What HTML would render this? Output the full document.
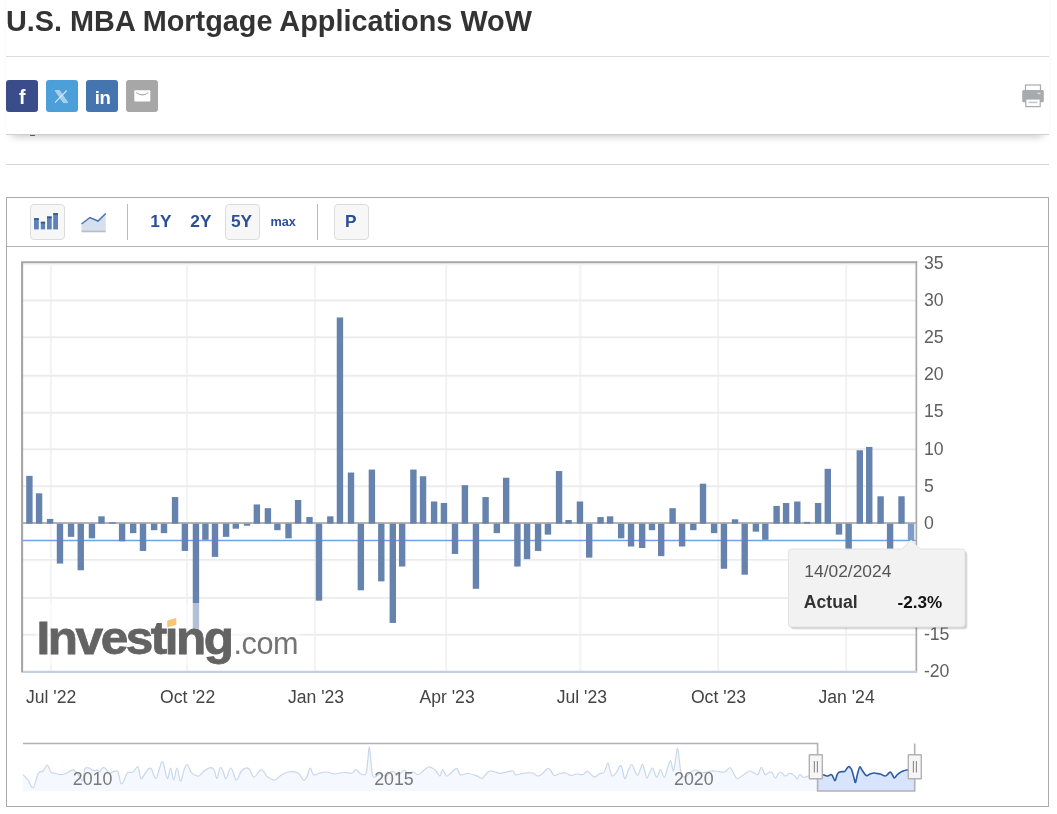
<!DOCTYPE html>
<html lang="en"><head><meta charset="utf-8"><title>U.S. MBA Mortgage Applications WoW</title>
<style>
html,body{margin:0;padding:0;background:#fff;}
body{width:1057px;height:814px;position:relative;overflow:hidden;font-family:"Liberation Sans",Arial,sans-serif;color:#333;}
.abs{position:absolute;}
#peek{left:29.5px;top:134.6px;width:5px;height:1.3px;background:#666;border-radius:1px;}
#line2{left:6px;top:164px;width:1043px;height:1px;background:#d6d6d6;}
#sticky{left:6px;top:-20px;width:1043px;height:154px;background:#fff;border-bottom:1px solid #cfcfcf;box-shadow:0 7px 8px -6px rgba(0,0,0,.25);}
#title{left:6.4px;top:2.0px;transform:scaleX(0.9487);transform-origin:0 0;margin:0;font-size:30.4px;line-height:36px;font-weight:bold;color:#333;white-space:nowrap;letter-spacing:0;}
#line1{left:6px;top:55.6px;width:1043px;height:1px;background:#dcdcdc;}
.sb{top:80px;width:32px;height:32px;border-radius:3px;}
.sb svg{position:absolute;left:0;top:0;}
#box{left:6px;top:197px;width:1041px;height:608px;border:1px solid #ababab;background:#fff;}
#tbline{left:7px;top:246px;width:1041px;height:1px;background:#b4b4b4;}
.btn{top:204px;height:34px;border:1px solid #dcdcdc;border-radius:4px;background:#f7f7f7;}
.rt{top:207px;height:28px;line-height:28px;font-weight:bold;color:#2b4f94;font-size:17.3px;white-space:nowrap;}
.sep{top:204px;width:1px;height:36px;background:#b9b9b9;}
#chart{left:0;top:0;}
#chart text{font-family:"Liberation Sans",Arial,sans-serif;}
</style></head><body>
<div class="abs" id="line2"></div>
<div class="abs" id="peek"></div>
<div class="abs" id="sticky"></div>
<h1 class="abs" id="title">U.S. MBA Mortgage Applications WoW</h1>
<div class="abs" id="line1"></div>

<div class="abs sb" style="left:6px;background:#3b4c8a;"><svg width="32" height="32" viewBox="0 0 32 32"><text x="16.2" y="23.6" text-anchor="middle" font-family="Liberation Sans,Arial,sans-serif" font-weight="bold" font-size="19.4" fill="#fff">f</text></svg></div>
<div class="abs sb" style="left:46px;background:#4d9fd9;"><svg width="32" height="32" viewBox="0 0 32 32"><path d="M9 10.5 H13.5 L21.9 22.6 H17.3 Z" fill="#fff" fill-opacity="0.5" stroke="#d6e8f6" stroke-width="0.5"/><path d="M20.7 10.5 L9 22.6" stroke="#d6e8f6" stroke-width="1.1" fill="none"/></svg></div>
<div class="abs sb" style="left:86px;background:#4475ae;"><svg width="32" height="32" viewBox="0 0 32 32"><text x="16.6" y="23.6" text-anchor="middle" font-family="Liberation Sans,Arial,sans-serif" font-weight="bold" font-size="18.6" fill="#fff" letter-spacing="-0.3">in</text></svg></div>
<div class="abs sb" style="left:126px;background:#a7a7a7;"><svg width="32" height="32" viewBox="0 0 32 32"><rect x="8.3" y="10.2" width="16" height="11.2" rx="1" fill="#fff"/><path d="M10.3 12.6 Q16.3 17.2 22.3 12.6" fill="none" stroke="#a7a7a7" stroke-width="1.1"/></svg></div>

<svg class="abs" style="left:1020px;top:82px" width="26" height="28" viewBox="0 0 26 28">
<rect x="5.5" y="3" width="15" height="6" fill="#fff" stroke="#a9aaac" stroke-width="1.2"/>
<rect x="2.2" y="8" width="21.6" height="12.3" rx="1.5" fill="#a9aaac"/>
<rect x="5.8" y="17" width="14.4" height="7.6" fill="#fff" stroke="#a9aaac" stroke-width="1.2"/>
<rect x="8.5" y="19.6" width="9" height="1.6" fill="#c9c9cb"/>
<rect x="17.5" y="10.6" width="3" height="1.6" fill="#d9d9db"/>
</svg>

<div class="abs" id="box"></div>
<div class="abs" id="tbline"></div>
<div class="abs btn" style="left:30px;width:33px;"></div>
<svg class="abs" style="left:30px;top:204px" width="36" height="36" viewBox="0 0 36 36">
<g fill="#5c82b8"><rect x="4" y="14.2" width="4.8" height="11.2"/><rect x="10.8" y="17.8" width="4.3" height="7.6"/><rect x="17" y="12.5" width="4.7" height="12.9"/><rect x="23.2" y="9.2" width="4.8" height="16.2"/></g>
<g fill="#35568c"><rect x="4" y="14.2" width="4.8" height="1.7"/><rect x="10.8" y="17.8" width="4.3" height="1.7"/><rect x="17" y="12.5" width="4.7" height="1.7"/><rect x="23.2" y="9.2" width="4.8" height="1.7"/></g>
</svg>
<svg class="abs" style="left:78px;top:204px" width="32" height="36" viewBox="0 0 32 36">
<path d="M3.5 20 L12 13.5 L20 17 L27.7 9.5 V27 H3.5 Z" fill="#d5e0ef"/>
<path d="M3.5 20 L12 13.5 L20 17 L27.7 9.5" fill="none" stroke="#4a70b0" stroke-width="1.5"/>
<rect x="3.5" y="26.6" width="24.2" height="1.7" fill="#bdbdbd"/>
</svg>
<div class="abs sep" style="left:127px;"></div>
<div class="abs rt" style="left:150.3px;">1Y</div>
<div class="abs rt" style="left:190.3px;">2Y</div>
<div class="abs btn" style="left:225px;width:33px;"></div>
<div class="abs rt" style="left:231px;">5Y</div>
<div class="abs rt" style="left:270.5px;font-size:12.7px;top:208.4px;">max</div>
<div class="abs sep" style="left:317px;"></div>
<div class="abs btn" style="left:334px;width:33px;"></div>
<div class="abs rt" style="left:345px;">P</div>

<svg class="abs" id="chart" width="1057" height="814" viewBox="0 0 1057 814">
<g stroke="#f3f3f3" stroke-width="2"><line x1="50.8" x2="50.8" y1="263" y2="671"/><line x1="187.0" x2="187.0" y1="263" y2="671"/><line x1="315.0" x2="315.0" y1="263" y2="671"/><line x1="446.2" x2="446.2" y1="263" y2="671"/><line x1="580.3" x2="580.3" y1="263" y2="671"/><line x1="718.2" x2="718.2" y1="263" y2="671"/><line x1="846.1" x2="846.1" y1="263" y2="671"/></g><g stroke="#ececec" stroke-width="1.9"><line x1="23" x2="916" y1="300.5" y2="300.5"/><line x1="23" x2="916" y1="337.3" y2="337.3"/><line x1="23" x2="916" y1="375.8" y2="375.8"/><line x1="23" x2="916" y1="412.7" y2="412.7"/><line x1="23" x2="916" y1="449.2" y2="449.2"/><line x1="23" x2="916" y1="486.2" y2="486.2"/><line x1="23" x2="916" y1="559.9" y2="559.9"/><line x1="23" x2="916" y1="597.9" y2="597.9"/><line x1="23" x2="916" y1="634.7" y2="634.7"/></g>
<line x1="23" x2="916" y1="523.0" y2="523.0" stroke="#b4b4b4" stroke-width="2"/>
<line x1="23" x2="916" y1="540.6" y2="540.6" stroke="#6ea3ea" stroke-width="1.5"/>
<g shape-rendering="auto">
<rect x="26.20" y="475.88" width="6.4" height="47.82" fill="#6683ad"/>
<rect x="35.87" y="493.32" width="6.4" height="30.38" fill="#6683ad"/>
<rect x="46.90" y="518.92" width="6.4" height="4.78" fill="#6683ad"/>
<rect x="56.78" y="523.70" width="6.4" height="39.87" fill="#6683ad"/>
<rect x="67.85" y="523.70" width="6.4" height="13.16" fill="#6683ad"/>
<rect x="77.56" y="523.70" width="6.4" height="46.55" fill="#6683ad"/>
<rect x="88.75" y="523.70" width="6.4" height="14.64" fill="#6683ad"/>
<rect x="98.30" y="516.32" width="6.4" height="7.38" fill="#6683ad"/>
<rect x="109.35" y="522.26" width="6.4" height="1.44" fill="#6683ad"/>
<rect x="118.90" y="523.70" width="6.4" height="17.61" fill="#6683ad"/>
<rect x="129.95" y="523.70" width="6.4" height="9.45" fill="#6683ad"/>
<rect x="139.80" y="523.70" width="6.4" height="27.25" fill="#6683ad"/>
<rect x="150.95" y="523.70" width="6.4" height="6.48" fill="#6683ad"/>
<rect x="160.80" y="523.70" width="6.4" height="9.45" fill="#6683ad"/>
<rect x="171.85" y="497.03" width="6.4" height="26.67" fill="#6683ad"/>
<rect x="181.70" y="523.70" width="6.4" height="27.25" fill="#6683ad"/>
<rect x="192.75" y="523.70" width="6.4" height="105.16" fill="#6683ad"/>
<rect x="202.20" y="523.70" width="6.4" height="16.12" fill="#6683ad"/>
<rect x="211.80" y="523.70" width="6.4" height="33.19" fill="#6683ad"/>
<rect x="222.90" y="523.70" width="6.4" height="13.16" fill="#6683ad"/>
<rect x="232.60" y="523.70" width="6.4" height="4.99" fill="#6683ad"/>
<rect x="243.80" y="523.70" width="6.4" height="2.03" fill="#6683ad"/>
<rect x="253.65" y="504.45" width="6.4" height="19.25" fill="#6683ad"/>
<rect x="264.70" y="508.16" width="6.4" height="15.54" fill="#6683ad"/>
<rect x="274.20" y="523.70" width="6.4" height="6.48" fill="#6683ad"/>
<rect x="285.30" y="523.70" width="6.4" height="14.64" fill="#6683ad"/>
<rect x="294.90" y="500.00" width="6.4" height="23.70" fill="#6683ad"/>
<rect x="306.30" y="517.06" width="6.4" height="6.64" fill="#6683ad"/>
<rect x="315.80" y="523.70" width="6.4" height="76.97" fill="#6683ad"/>
<rect x="327.10" y="516.32" width="6.4" height="7.38" fill="#6683ad"/>
<rect x="336.75" y="317.47" width="6.4" height="206.23" fill="#6683ad"/>
<rect x="347.80" y="472.54" width="6.4" height="51.16" fill="#6683ad"/>
<rect x="357.65" y="523.70" width="6.4" height="66.58" fill="#6683ad"/>
<rect x="368.70" y="469.58" width="6.4" height="54.12" fill="#6683ad"/>
<rect x="378.10" y="523.70" width="6.4" height="57.68" fill="#6683ad"/>
<rect x="389.60" y="523.70" width="6.4" height="99.23" fill="#6683ad"/>
<rect x="398.95" y="523.70" width="6.4" height="42.84" fill="#6683ad"/>
<rect x="410.20" y="469.58" width="6.4" height="54.12" fill="#6683ad"/>
<rect x="419.85" y="476.25" width="6.4" height="47.45" fill="#6683ad"/>
<rect x="430.90" y="501.48" width="6.4" height="22.22" fill="#6683ad"/>
<rect x="440.75" y="502.97" width="6.4" height="20.73" fill="#6683ad"/>
<rect x="451.80" y="523.70" width="6.4" height="30.22" fill="#6683ad"/>
<rect x="461.70" y="485.16" width="6.4" height="38.54" fill="#6683ad"/>
<rect x="472.75" y="523.70" width="6.4" height="65.10" fill="#6683ad"/>
<rect x="482.40" y="497.03" width="6.4" height="26.67" fill="#6683ad"/>
<rect x="493.65" y="523.70" width="6.4" height="9.45" fill="#6683ad"/>
<rect x="502.95" y="477.74" width="6.4" height="45.96" fill="#6683ad"/>
<rect x="514.20" y="523.70" width="6.4" height="42.84" fill="#6683ad"/>
<rect x="523.85" y="523.70" width="6.4" height="35.42" fill="#6683ad"/>
<rect x="534.90" y="523.70" width="6.4" height="27.25" fill="#6683ad"/>
<rect x="544.75" y="523.70" width="6.4" height="10.93" fill="#6683ad"/>
<rect x="555.85" y="471.06" width="6.4" height="52.64" fill="#6683ad"/>
<rect x="565.40" y="520.03" width="6.4" height="3.67" fill="#6683ad"/>
<rect x="576.75" y="501.48" width="6.4" height="22.22" fill="#6683ad"/>
<rect x="586.00" y="523.70" width="6.4" height="33.93" fill="#6683ad"/>
<rect x="597.35" y="517.06" width="6.4" height="6.64" fill="#6683ad"/>
<rect x="606.90" y="516.32" width="6.4" height="7.38" fill="#6683ad"/>
<rect x="617.95" y="523.70" width="6.4" height="14.64" fill="#6683ad"/>
<rect x="627.85" y="523.70" width="6.4" height="22.80" fill="#6683ad"/>
<rect x="638.95" y="523.70" width="6.4" height="24.29" fill="#6683ad"/>
<rect x="648.78" y="523.70" width="6.4" height="6.48" fill="#6683ad"/>
<rect x="658.00" y="523.70" width="6.4" height="32.45" fill="#6683ad"/>
<rect x="669.40" y="508.16" width="6.4" height="15.54" fill="#6683ad"/>
<rect x="678.90" y="523.70" width="6.4" height="22.80" fill="#6683ad"/>
<rect x="690.10" y="523.70" width="6.4" height="6.48" fill="#6683ad"/>
<rect x="699.80" y="483.67" width="6.4" height="40.03" fill="#6683ad"/>
<rect x="710.90" y="523.70" width="6.4" height="9.45" fill="#6683ad"/>
<rect x="720.75" y="523.70" width="6.4" height="45.06" fill="#6683ad"/>
<rect x="731.80" y="519.29" width="6.4" height="4.41" fill="#6683ad"/>
<rect x="741.50" y="523.70" width="6.4" height="51.00" fill="#6683ad"/>
<rect x="752.70" y="523.70" width="6.4" height="7.96" fill="#6683ad"/>
<rect x="762.10" y="523.70" width="6.4" height="16.12" fill="#6683ad"/>
<rect x="773.40" y="505.93" width="6.4" height="17.77" fill="#6683ad"/>
<rect x="782.90" y="502.97" width="6.4" height="20.73" fill="#6683ad"/>
<rect x="794.10" y="501.48" width="6.4" height="22.22" fill="#6683ad"/>
<rect x="803.80" y="521.89" width="6.4" height="1.81" fill="#6683ad"/>
<rect x="814.90" y="502.97" width="6.4" height="20.73" fill="#6683ad"/>
<rect x="824.60" y="468.83" width="6.4" height="54.87" fill="#6683ad"/>
<rect x="835.80" y="523.70" width="6.4" height="10.93" fill="#6683ad"/>
<rect x="845.45" y="523.70" width="6.4" height="69.55" fill="#6683ad"/>
<rect x="856.60" y="450.28" width="6.4" height="73.42" fill="#6683ad"/>
<rect x="866.05" y="446.94" width="6.4" height="76.76" fill="#6683ad"/>
<rect x="877.40" y="496.29" width="6.4" height="27.41" fill="#6683ad"/>
<rect x="886.90" y="523.70" width="6.4" height="53.22" fill="#6683ad"/>
<rect x="898.30" y="496.29" width="6.4" height="27.41" fill="#6683ad"/>
<rect x="907.85" y="523.70" width="6.4" height="16.87" fill="#7d9cc8"/>
</g>
<!-- watermark -->
<rect x="36" y="603" width="264" height="62" fill="#fff" fill-opacity="0.5"/>
<text transform="translate(36.6 0) scale(1.076 1)" x="0" y="654" font-weight="bold" font-size="46" fill="#636363" letter-spacing="-2.3" stroke="#636363" stroke-width="0.8">Investing</text>
<rect x="166" y="616" width="11.5" height="11.6" fill="#fff"/>
<path d="M167.2 620.6 L176.3 618 L176.3 624.7 L167.2 627.4 Z" fill="#f6c673"/>
<text x="233.6" y="654" font-size="30.6" fill="#747474" letter-spacing="-0.5">.com</text>
<!-- plot border -->
<line x1="23" x2="916" y1="264.4" y2="264.4" stroke="#f4f4f4" stroke-width="1.6"/>
<path d="M22.1 672.6 V262.2 H917.1" fill="none" stroke="#a6a6a6" stroke-width="2.1"/>
<line x1="916.35" x2="916.35" y1="261.2" y2="672.4" stroke="#a9a9a9" stroke-width="1.7"/>
<line x1="23.1" x2="917.1" y1="671.9" y2="671.9" stroke="#c3cfdf" stroke-width="2.2"/>
<g font-size="17.7" fill="#5f5f5f"><text x="923.9" y="269.0">35</text><text x="923.9" y="306.1">30</text><text x="923.9" y="343.2">25</text><text x="923.9" y="380.3">20</text><text x="923.9" y="417.4">15</text><text x="923.9" y="454.5">10</text><text x="923.9" y="491.6">5</text><text x="923.9" y="528.7">0</text><text x="923.9" y="565.8">-5</text><text x="923.9" y="602.9">-10</text><text x="923.9" y="640.0">-15</text><text x="923.9" y="677.1">-20</text></g>
<g font-size="17.6" fill="#444"><text x="51.1" y="702.8" text-anchor="middle">Jul '22</text><text x="187.6" y="702.8" text-anchor="middle">Oct '22</text><text x="316.0" y="702.8" text-anchor="middle">Jan '23</text><text x="447.1" y="702.8" text-anchor="middle">Apr '23</text><text x="581.8" y="702.8" text-anchor="middle">Jul '23</text><text x="718.5" y="702.8" text-anchor="middle">Oct '23</text><text x="846.6" y="702.8" text-anchor="middle">Jan '24</text></g>
<!-- navigator -->
<path d="M23.0 774.7 C23.9 775.7 26.2 777.7 28.0 780.0 C29.8 782.3 31.3 788.7 33.2 787.5 C35.1 786.3 36.5 776.4 38.3 773.4 C40.1 770.4 41.4 772.5 43.0 771.0 C44.6 769.5 45.9 765.0 47.3 765.2 C48.7 765.4 49.4 770.5 51.0 772.0 C52.6 773.5 54.1 773.0 56.0 773.5 C57.9 774.0 59.3 774.8 61.3 774.7 C63.3 774.6 65.0 773.9 67.0 773.0 C69.0 772.1 70.9 769.9 72.6 769.9 C74.3 769.9 75.3 771.6 76.6 772.9 C77.9 774.2 78.8 775.5 79.9 776.9 C81.0 778.3 82.0 781.8 82.8 780.8 C83.6 779.8 83.7 773.9 84.2 771.6 C84.7 769.3 84.5 768.5 85.5 767.9 C86.5 767.3 88.7 767.8 89.8 768.2 C90.9 768.6 90.8 769.5 91.8 769.9 C92.8 770.3 94.1 770.6 95.1 770.6 C96.1 770.6 96.3 769.7 97.1 769.9 C97.9 770.1 98.9 771.7 99.7 771.6 C100.5 771.5 100.7 769.9 101.4 769.2 C102.1 768.5 102.5 767.6 103.4 767.6 C104.3 767.6 105.6 768.4 106.4 769.2 C107.2 770.0 107.1 771.1 107.7 771.9 C108.3 772.7 109.2 773.5 110.0 773.5 C110.8 773.5 111.4 772.3 112.3 771.9 C113.2 771.5 114.0 771.3 115.0 771.2 C116.0 771.1 116.9 770.5 117.6 771.2 C118.3 771.9 118.3 772.7 118.9 774.9 C119.5 777.1 120.1 782.3 120.9 783.5 C121.7 784.7 122.6 783.0 123.6 781.5 C124.6 780.0 125.4 776.5 126.2 774.9 C127.0 773.3 127.0 772.9 128.2 772.4 C129.4 771.9 131.2 773.0 133.0 772.0 C134.8 771.0 136.6 765.8 138.0 767.0 C139.4 768.2 139.6 777.6 141.0 778.5 C142.4 779.4 144.3 773.8 146.0 772.0 C147.7 770.2 148.9 767.1 150.7 768.3 C152.5 769.5 154.3 778.2 155.8 778.5 C157.3 778.8 157.8 773.0 159.0 770.0 C160.2 767.0 161.2 760.5 162.7 762.0 C164.2 763.5 165.9 777.4 167.3 778.5 C168.7 779.6 169.4 767.8 170.6 768.0 C171.8 768.2 172.5 779.8 173.7 779.8 C174.9 779.8 175.8 767.8 177.0 768.0 C178.2 768.2 179.3 780.6 180.6 781.0 C181.9 781.4 182.8 773.0 184.0 770.0 C185.2 767.0 185.9 764.1 187.2 764.5 C188.5 764.9 189.8 770.2 191.0 772.0 C192.2 773.8 192.6 774.0 194.0 774.7 C195.4 775.4 197.2 776.7 199.0 776.0 C200.8 775.3 202.1 772.5 204.0 771.0 C205.9 769.5 207.7 768.1 209.5 767.8 C211.3 767.5 212.7 767.6 214.0 769.5 C215.3 771.4 215.9 778.8 217.0 778.5 C218.1 778.2 218.9 769.4 220.0 768.0 C221.1 766.6 221.9 769.1 223.0 771.0 C224.1 772.9 224.6 779.0 226.0 778.5 C227.4 778.0 229.1 767.7 231.0 768.0 C232.9 768.3 234.4 779.5 236.3 780.0 C238.2 780.5 239.6 773.2 241.4 771.0 C243.2 768.8 245.0 768.0 246.5 767.8 C248.0 767.6 248.7 768.3 250.0 770.0 C251.3 771.7 252.1 777.0 254.0 777.0 C255.9 777.0 258.7 770.9 260.5 770.0 C262.3 769.1 262.7 770.7 264.0 772.0 C265.3 773.3 265.7 775.6 267.7 777.0 C269.7 778.4 272.8 780.2 275.0 780.0 C277.2 779.8 277.7 777.4 280.0 776.0 C282.3 774.6 284.8 772.5 288.0 772.0 C291.2 771.5 295.2 771.6 298.0 773.0 C300.8 774.4 301.8 779.3 303.4 780.0 C305.0 780.7 305.8 779.2 307.0 777.0 C308.2 774.8 308.8 768.4 310.0 768.0 C311.2 767.6 311.8 773.8 313.6 774.7 C315.4 775.6 317.7 773.5 320.0 773.0 C322.3 772.5 323.7 771.8 326.4 772.0 C329.1 772.2 332.0 773.9 335.0 774.0 C338.0 774.1 339.9 772.7 343.0 772.5 C346.1 772.3 349.7 773.5 352.0 773.0 C354.3 772.5 354.2 769.4 355.8 769.6 C357.4 769.8 359.2 773.3 361.0 774.0 C362.8 774.7 364.8 775.9 366.0 773.4 C367.2 770.9 367.2 764.8 367.8 760.0 C368.4 755.2 368.8 746.6 369.3 746.6 C369.8 746.6 370.2 754.9 370.8 760.0 C371.4 765.1 371.6 771.6 372.4 774.7 C373.2 777.8 373.6 777.1 375.0 777.0 C376.4 776.9 378.0 774.2 380.0 774.0 C382.0 773.8 383.8 776.5 386.0 776.0 C388.2 775.5 389.8 771.2 392.0 771.0 C394.2 770.8 395.8 775.2 398.0 775.0 C400.2 774.8 402.2 770.2 404.0 770.0 C405.8 769.8 406.4 773.6 408.0 774.0 C409.6 774.4 411.2 771.9 413.0 772.0 C414.8 772.1 416.2 774.9 418.0 774.7 C419.8 774.5 421.1 772.4 423.0 771.0 C424.9 769.6 427.0 767.5 428.6 767.0 C430.2 766.5 430.7 767.3 432.0 768.0 C433.3 768.7 434.6 769.6 436.0 771.0 C437.4 772.4 438.8 776.3 440.0 776.0 C441.2 775.7 441.4 769.6 442.6 769.6 C443.8 769.6 445.0 775.4 446.5 776.0 C448.0 776.6 449.2 774.4 451.0 773.0 C452.8 771.6 455.0 768.0 456.7 768.3 C458.4 768.6 458.5 773.8 460.5 774.7 C462.5 775.6 465.0 773.3 468.0 773.5 C471.0 773.7 474.5 775.1 477.0 776.0 C479.5 776.9 480.4 778.9 482.0 778.5 C483.6 778.1 484.6 775.4 486.0 774.0 C487.4 772.6 488.4 771.4 490.0 771.0 C491.6 770.6 493.2 771.6 495.0 772.0 C496.8 772.4 497.8 773.4 500.0 773.4 C502.2 773.4 504.7 772.4 507.0 772.0 C509.3 771.6 511.5 770.5 513.0 771.0 C514.5 771.5 514.1 774.2 515.4 774.7 C516.7 775.2 518.1 774.3 520.0 774.0 C521.9 773.7 523.7 773.2 526.0 773.0 C528.3 772.8 530.6 772.5 532.8 773.0 C535.0 773.5 536.2 776.0 538.0 776.0 C539.8 776.0 541.2 774.4 543.0 773.0 C544.8 771.6 546.6 768.7 548.0 768.3 C549.4 767.9 549.8 769.7 551.0 771.0 C552.2 772.3 552.9 775.0 554.5 775.5 C556.1 776.0 557.9 774.0 560.0 773.5 C562.1 773.0 564.0 772.6 566.0 773.0 C568.0 773.4 569.0 775.3 571.0 775.5 C573.0 775.7 574.8 774.2 577.0 774.0 C579.2 773.8 581.1 775.0 583.0 774.5 C584.9 774.0 585.7 770.9 587.7 771.4 C589.7 771.9 592.0 776.5 594.0 777.0 C596.0 777.5 597.1 774.9 599.0 774.0 C600.9 773.1 602.8 773.9 604.3 772.0 C605.8 770.1 606.6 763.6 607.6 763.2 C608.6 762.8 609.2 767.7 610.0 770.0 C610.8 772.3 610.9 775.5 612.0 776.0 C613.1 776.5 614.4 774.8 616.0 773.0 C617.6 771.2 619.4 764.8 621.0 765.8 C622.6 766.8 623.4 777.6 624.7 778.5 C626.0 779.4 626.8 773.5 628.0 771.0 C629.2 768.5 630.4 764.7 631.6 764.5 C632.8 764.3 633.4 768.0 634.5 770.0 C635.6 772.0 636.5 775.5 637.5 775.5 C638.5 775.5 639.1 772.0 640.0 770.0 C640.9 768.0 641.7 764.1 642.6 764.5 C643.5 764.9 644.2 769.6 645.0 772.0 C645.8 774.4 646.1 778.0 647.0 778.0 C647.9 778.0 649.0 773.7 650.0 772.0 C651.0 770.3 651.6 767.3 652.8 768.3 C654.0 769.3 655.3 777.1 656.7 777.3 C658.1 777.5 659.1 769.6 660.5 769.6 C661.9 769.6 663.0 777.6 664.3 777.3 C665.6 777.0 666.3 771.0 667.5 768.0 C668.7 765.0 669.7 760.2 670.7 760.7 C671.7 761.2 672.4 771.1 673.3 771.0 C674.2 770.9 674.7 764.1 675.5 760.0 C676.3 755.9 676.9 748.0 677.6 748.4 C678.3 748.8 678.8 757.3 679.5 762.0 C680.2 766.7 680.4 772.0 681.4 774.7 C682.4 777.4 683.5 777.3 685.0 777.0 C686.5 776.7 688.2 774.3 690.0 773.0 C691.8 771.7 693.2 770.2 695.0 770.0 C696.8 769.8 698.2 771.5 700.0 772.0 C701.8 772.5 702.9 772.7 705.0 772.5 C707.1 772.3 709.3 771.2 711.6 771.0 C713.9 770.8 715.7 771.3 718.0 771.5 C720.3 771.7 722.7 772.3 724.3 772.0 C725.9 771.7 726.0 770.8 727.0 770.0 C728.0 769.2 728.8 767.3 730.0 767.8 C731.2 768.3 732.2 771.1 733.5 773.0 C734.8 774.9 735.5 778.0 737.0 778.5 C738.5 779.0 740.4 777.0 742.0 776.0 C743.6 775.0 744.6 773.9 746.0 773.0 C747.4 772.1 748.6 771.0 750.0 771.0 C751.4 771.0 752.6 772.3 754.0 773.0 C755.4 773.7 756.5 775.1 757.5 774.7 C758.5 774.3 758.8 772.4 759.5 771.0 C760.2 769.6 760.7 767.0 761.4 767.0 C762.1 767.0 762.6 769.6 763.3 771.0 C764.0 772.4 764.4 774.3 765.2 774.7 C766.0 775.1 766.8 773.5 768.0 773.0 C769.2 772.5 770.3 771.1 771.6 772.0 C772.9 772.9 774.2 777.6 775.4 778.0 C776.6 778.4 777.1 775.1 778.0 774.0 C778.9 772.9 779.6 772.0 780.5 772.0 C781.4 772.0 782.1 773.3 783.0 774.0 C783.9 774.7 784.3 776.1 785.6 776.0 C786.9 775.9 788.4 773.4 790.0 773.4 C791.6 773.4 793.4 775.0 794.7 776.0 C796.0 777.0 796.3 779.2 797.2 779.0 C798.1 778.8 798.6 775.0 799.8 774.7 C801.0 774.4 802.0 777.1 803.6 777.3 C805.2 777.5 807.0 776.4 808.7 776.0 C810.4 775.6 811.4 775.2 813.0 775.0 C814.6 774.8 816.8 775.0 817.6 775.0 L817.6 791 L23 791 Z" fill="#f5f8fe"/>
<path d="M23.0 774.7 C23.9 775.7 26.2 777.7 28.0 780.0 C29.8 782.3 31.3 788.7 33.2 787.5 C35.1 786.3 36.5 776.4 38.3 773.4 C40.1 770.4 41.4 772.5 43.0 771.0 C44.6 769.5 45.9 765.0 47.3 765.2 C48.7 765.4 49.4 770.5 51.0 772.0 C52.6 773.5 54.1 773.0 56.0 773.5 C57.9 774.0 59.3 774.8 61.3 774.7 C63.3 774.6 65.0 773.9 67.0 773.0 C69.0 772.1 70.9 769.9 72.6 769.9 C74.3 769.9 75.3 771.6 76.6 772.9 C77.9 774.2 78.8 775.5 79.9 776.9 C81.0 778.3 82.0 781.8 82.8 780.8 C83.6 779.8 83.7 773.9 84.2 771.6 C84.7 769.3 84.5 768.5 85.5 767.9 C86.5 767.3 88.7 767.8 89.8 768.2 C90.9 768.6 90.8 769.5 91.8 769.9 C92.8 770.3 94.1 770.6 95.1 770.6 C96.1 770.6 96.3 769.7 97.1 769.9 C97.9 770.1 98.9 771.7 99.7 771.6 C100.5 771.5 100.7 769.9 101.4 769.2 C102.1 768.5 102.5 767.6 103.4 767.6 C104.3 767.6 105.6 768.4 106.4 769.2 C107.2 770.0 107.1 771.1 107.7 771.9 C108.3 772.7 109.2 773.5 110.0 773.5 C110.8 773.5 111.4 772.3 112.3 771.9 C113.2 771.5 114.0 771.3 115.0 771.2 C116.0 771.1 116.9 770.5 117.6 771.2 C118.3 771.9 118.3 772.7 118.9 774.9 C119.5 777.1 120.1 782.3 120.9 783.5 C121.7 784.7 122.6 783.0 123.6 781.5 C124.6 780.0 125.4 776.5 126.2 774.9 C127.0 773.3 127.0 772.9 128.2 772.4 C129.4 771.9 131.2 773.0 133.0 772.0 C134.8 771.0 136.6 765.8 138.0 767.0 C139.4 768.2 139.6 777.6 141.0 778.5 C142.4 779.4 144.3 773.8 146.0 772.0 C147.7 770.2 148.9 767.1 150.7 768.3 C152.5 769.5 154.3 778.2 155.8 778.5 C157.3 778.8 157.8 773.0 159.0 770.0 C160.2 767.0 161.2 760.5 162.7 762.0 C164.2 763.5 165.9 777.4 167.3 778.5 C168.7 779.6 169.4 767.8 170.6 768.0 C171.8 768.2 172.5 779.8 173.7 779.8 C174.9 779.8 175.8 767.8 177.0 768.0 C178.2 768.2 179.3 780.6 180.6 781.0 C181.9 781.4 182.8 773.0 184.0 770.0 C185.2 767.0 185.9 764.1 187.2 764.5 C188.5 764.9 189.8 770.2 191.0 772.0 C192.2 773.8 192.6 774.0 194.0 774.7 C195.4 775.4 197.2 776.7 199.0 776.0 C200.8 775.3 202.1 772.5 204.0 771.0 C205.9 769.5 207.7 768.1 209.5 767.8 C211.3 767.5 212.7 767.6 214.0 769.5 C215.3 771.4 215.9 778.8 217.0 778.5 C218.1 778.2 218.9 769.4 220.0 768.0 C221.1 766.6 221.9 769.1 223.0 771.0 C224.1 772.9 224.6 779.0 226.0 778.5 C227.4 778.0 229.1 767.7 231.0 768.0 C232.9 768.3 234.4 779.5 236.3 780.0 C238.2 780.5 239.6 773.2 241.4 771.0 C243.2 768.8 245.0 768.0 246.5 767.8 C248.0 767.6 248.7 768.3 250.0 770.0 C251.3 771.7 252.1 777.0 254.0 777.0 C255.9 777.0 258.7 770.9 260.5 770.0 C262.3 769.1 262.7 770.7 264.0 772.0 C265.3 773.3 265.7 775.6 267.7 777.0 C269.7 778.4 272.8 780.2 275.0 780.0 C277.2 779.8 277.7 777.4 280.0 776.0 C282.3 774.6 284.8 772.5 288.0 772.0 C291.2 771.5 295.2 771.6 298.0 773.0 C300.8 774.4 301.8 779.3 303.4 780.0 C305.0 780.7 305.8 779.2 307.0 777.0 C308.2 774.8 308.8 768.4 310.0 768.0 C311.2 767.6 311.8 773.8 313.6 774.7 C315.4 775.6 317.7 773.5 320.0 773.0 C322.3 772.5 323.7 771.8 326.4 772.0 C329.1 772.2 332.0 773.9 335.0 774.0 C338.0 774.1 339.9 772.7 343.0 772.5 C346.1 772.3 349.7 773.5 352.0 773.0 C354.3 772.5 354.2 769.4 355.8 769.6 C357.4 769.8 359.2 773.3 361.0 774.0 C362.8 774.7 364.8 775.9 366.0 773.4 C367.2 770.9 367.2 764.8 367.8 760.0 C368.4 755.2 368.8 746.6 369.3 746.6 C369.8 746.6 370.2 754.9 370.8 760.0 C371.4 765.1 371.6 771.6 372.4 774.7 C373.2 777.8 373.6 777.1 375.0 777.0 C376.4 776.9 378.0 774.2 380.0 774.0 C382.0 773.8 383.8 776.5 386.0 776.0 C388.2 775.5 389.8 771.2 392.0 771.0 C394.2 770.8 395.8 775.2 398.0 775.0 C400.2 774.8 402.2 770.2 404.0 770.0 C405.8 769.8 406.4 773.6 408.0 774.0 C409.6 774.4 411.2 771.9 413.0 772.0 C414.8 772.1 416.2 774.9 418.0 774.7 C419.8 774.5 421.1 772.4 423.0 771.0 C424.9 769.6 427.0 767.5 428.6 767.0 C430.2 766.5 430.7 767.3 432.0 768.0 C433.3 768.7 434.6 769.6 436.0 771.0 C437.4 772.4 438.8 776.3 440.0 776.0 C441.2 775.7 441.4 769.6 442.6 769.6 C443.8 769.6 445.0 775.4 446.5 776.0 C448.0 776.6 449.2 774.4 451.0 773.0 C452.8 771.6 455.0 768.0 456.7 768.3 C458.4 768.6 458.5 773.8 460.5 774.7 C462.5 775.6 465.0 773.3 468.0 773.5 C471.0 773.7 474.5 775.1 477.0 776.0 C479.5 776.9 480.4 778.9 482.0 778.5 C483.6 778.1 484.6 775.4 486.0 774.0 C487.4 772.6 488.4 771.4 490.0 771.0 C491.6 770.6 493.2 771.6 495.0 772.0 C496.8 772.4 497.8 773.4 500.0 773.4 C502.2 773.4 504.7 772.4 507.0 772.0 C509.3 771.6 511.5 770.5 513.0 771.0 C514.5 771.5 514.1 774.2 515.4 774.7 C516.7 775.2 518.1 774.3 520.0 774.0 C521.9 773.7 523.7 773.2 526.0 773.0 C528.3 772.8 530.6 772.5 532.8 773.0 C535.0 773.5 536.2 776.0 538.0 776.0 C539.8 776.0 541.2 774.4 543.0 773.0 C544.8 771.6 546.6 768.7 548.0 768.3 C549.4 767.9 549.8 769.7 551.0 771.0 C552.2 772.3 552.9 775.0 554.5 775.5 C556.1 776.0 557.9 774.0 560.0 773.5 C562.1 773.0 564.0 772.6 566.0 773.0 C568.0 773.4 569.0 775.3 571.0 775.5 C573.0 775.7 574.8 774.2 577.0 774.0 C579.2 773.8 581.1 775.0 583.0 774.5 C584.9 774.0 585.7 770.9 587.7 771.4 C589.7 771.9 592.0 776.5 594.0 777.0 C596.0 777.5 597.1 774.9 599.0 774.0 C600.9 773.1 602.8 773.9 604.3 772.0 C605.8 770.1 606.6 763.6 607.6 763.2 C608.6 762.8 609.2 767.7 610.0 770.0 C610.8 772.3 610.9 775.5 612.0 776.0 C613.1 776.5 614.4 774.8 616.0 773.0 C617.6 771.2 619.4 764.8 621.0 765.8 C622.6 766.8 623.4 777.6 624.7 778.5 C626.0 779.4 626.8 773.5 628.0 771.0 C629.2 768.5 630.4 764.7 631.6 764.5 C632.8 764.3 633.4 768.0 634.5 770.0 C635.6 772.0 636.5 775.5 637.5 775.5 C638.5 775.5 639.1 772.0 640.0 770.0 C640.9 768.0 641.7 764.1 642.6 764.5 C643.5 764.9 644.2 769.6 645.0 772.0 C645.8 774.4 646.1 778.0 647.0 778.0 C647.9 778.0 649.0 773.7 650.0 772.0 C651.0 770.3 651.6 767.3 652.8 768.3 C654.0 769.3 655.3 777.1 656.7 777.3 C658.1 777.5 659.1 769.6 660.5 769.6 C661.9 769.6 663.0 777.6 664.3 777.3 C665.6 777.0 666.3 771.0 667.5 768.0 C668.7 765.0 669.7 760.2 670.7 760.7 C671.7 761.2 672.4 771.1 673.3 771.0 C674.2 770.9 674.7 764.1 675.5 760.0 C676.3 755.9 676.9 748.0 677.6 748.4 C678.3 748.8 678.8 757.3 679.5 762.0 C680.2 766.7 680.4 772.0 681.4 774.7 C682.4 777.4 683.5 777.3 685.0 777.0 C686.5 776.7 688.2 774.3 690.0 773.0 C691.8 771.7 693.2 770.2 695.0 770.0 C696.8 769.8 698.2 771.5 700.0 772.0 C701.8 772.5 702.9 772.7 705.0 772.5 C707.1 772.3 709.3 771.2 711.6 771.0 C713.9 770.8 715.7 771.3 718.0 771.5 C720.3 771.7 722.7 772.3 724.3 772.0 C725.9 771.7 726.0 770.8 727.0 770.0 C728.0 769.2 728.8 767.3 730.0 767.8 C731.2 768.3 732.2 771.1 733.5 773.0 C734.8 774.9 735.5 778.0 737.0 778.5 C738.5 779.0 740.4 777.0 742.0 776.0 C743.6 775.0 744.6 773.9 746.0 773.0 C747.4 772.1 748.6 771.0 750.0 771.0 C751.4 771.0 752.6 772.3 754.0 773.0 C755.4 773.7 756.5 775.1 757.5 774.7 C758.5 774.3 758.8 772.4 759.5 771.0 C760.2 769.6 760.7 767.0 761.4 767.0 C762.1 767.0 762.6 769.6 763.3 771.0 C764.0 772.4 764.4 774.3 765.2 774.7 C766.0 775.1 766.8 773.5 768.0 773.0 C769.2 772.5 770.3 771.1 771.6 772.0 C772.9 772.9 774.2 777.6 775.4 778.0 C776.6 778.4 777.1 775.1 778.0 774.0 C778.9 772.9 779.6 772.0 780.5 772.0 C781.4 772.0 782.1 773.3 783.0 774.0 C783.9 774.7 784.3 776.1 785.6 776.0 C786.9 775.9 788.4 773.4 790.0 773.4 C791.6 773.4 793.4 775.0 794.7 776.0 C796.0 777.0 796.3 779.2 797.2 779.0 C798.1 778.8 798.6 775.0 799.8 774.7 C801.0 774.4 802.0 777.1 803.6 777.3 C805.2 777.5 807.0 776.4 808.7 776.0 C810.4 775.6 811.4 775.2 813.0 775.0 C814.6 774.8 816.8 775.0 817.6 775.0" fill="none" stroke="#c9d7ea" stroke-width="1.2" stroke-linejoin="round"/>
<path d="M817.6 775.0 C818.5 774.9 820.9 774.5 822.8 774.7 C824.7 774.9 826.3 776.0 827.9 776.0 C829.5 776.0 830.4 773.9 831.7 774.7 C833.0 775.5 834.0 780.5 835.0 780.6 C836.0 780.7 836.2 776.5 837.0 775.0 C837.8 773.5 838.0 772.6 839.4 772.0 C840.8 771.4 843.2 771.9 844.5 771.4 C845.8 770.9 845.7 769.9 846.5 769.0 C847.3 768.1 848.1 766.7 848.8 766.5 C849.5 766.3 849.9 767.2 850.5 768.0 C851.1 768.8 851.5 769.1 852.1 770.9 C852.7 772.7 853.4 775.9 854.0 778.0 C854.6 780.1 854.9 783.1 855.5 782.4 C856.1 781.7 856.7 776.8 857.5 774.0 C858.3 771.2 859.0 767.7 859.8 767.0 C860.6 766.3 860.8 768.5 862.0 770.0 C863.2 771.5 864.8 774.8 866.2 775.5 C867.6 776.2 868.6 774.5 870.0 774.0 C871.4 773.5 872.5 773.1 873.8 773.0 C875.1 772.9 875.8 773.3 877.0 773.5 C878.2 773.7 878.7 773.5 880.2 774.0 C881.7 774.5 883.9 776.0 885.3 776.0 C886.7 776.0 887.1 774.7 888.0 774.0 C888.9 773.3 889.6 771.8 890.4 772.0 C891.2 772.2 891.8 773.9 892.5 775.0 C893.2 776.1 893.5 778.0 894.3 778.0 C895.1 778.0 896.1 775.9 897.0 775.0 C897.9 774.1 898.3 773.7 899.4 773.0 C900.5 772.3 901.6 771.5 903.0 771.0 C904.4 770.5 904.9 770.3 907.0 770.0 C909.1 769.7 913.3 769.6 914.7 769.5 L914.7 791 L817.6 791 Z" fill="#d7e4fb"/>
<path d="M817.6 775.0 C818.5 774.9 820.9 774.5 822.8 774.7 C824.7 774.9 826.3 776.0 827.9 776.0 C829.5 776.0 830.4 773.9 831.7 774.7 C833.0 775.5 834.0 780.5 835.0 780.6 C836.0 780.7 836.2 776.5 837.0 775.0 C837.8 773.5 838.0 772.6 839.4 772.0 C840.8 771.4 843.2 771.9 844.5 771.4 C845.8 770.9 845.7 769.9 846.5 769.0 C847.3 768.1 848.1 766.7 848.8 766.5 C849.5 766.3 849.9 767.2 850.5 768.0 C851.1 768.8 851.5 769.1 852.1 770.9 C852.7 772.7 853.4 775.9 854.0 778.0 C854.6 780.1 854.9 783.1 855.5 782.4 C856.1 781.7 856.7 776.8 857.5 774.0 C858.3 771.2 859.0 767.7 859.8 767.0 C860.6 766.3 860.8 768.5 862.0 770.0 C863.2 771.5 864.8 774.8 866.2 775.5 C867.6 776.2 868.6 774.5 870.0 774.0 C871.4 773.5 872.5 773.1 873.8 773.0 C875.1 772.9 875.8 773.3 877.0 773.5 C878.2 773.7 878.7 773.5 880.2 774.0 C881.7 774.5 883.9 776.0 885.3 776.0 C886.7 776.0 887.1 774.7 888.0 774.0 C888.9 773.3 889.6 771.8 890.4 772.0 C891.2 772.2 891.8 773.9 892.5 775.0 C893.2 776.1 893.5 778.0 894.3 778.0 C895.1 778.0 896.1 775.9 897.0 775.0 C897.9 774.1 898.3 773.7 899.4 773.0 C900.5 772.3 901.6 771.5 903.0 771.0 C904.4 770.5 904.9 770.3 907.0 770.0 C909.1 769.7 913.3 769.6 914.7 769.5" fill="none" stroke="#2d5ca3" stroke-width="1.6" stroke-linejoin="round"/>
<g font-size="17.8" fill="#787878"><text x="72.8" y="785">2010</text><text x="374.2" y="785">2015</text><text x="674" y="785">2020</text></g>
<path d="M23 743.5 H817.6 V791 H914.7 V743.5" fill="none" stroke="#b2b1b6" stroke-width="1.6"/>
<g fill="#f6f6f6" stroke="#b2b1b6" stroke-width="1.4"><rect x="809.3" y="754.8" width="13" height="24" rx="0.5"/><rect x="908.3" y="754.8" width="13" height="24" rx="0.5"/></g>
<g stroke="#8a8a8a" stroke-width="1.1"><path d="M814.4 761v11.5M817.4 761v11.5M913.4 761v11.5M916.4 761v11.5"/></g>
<!-- tooltip -->
<g>
<path d="M791.5 549 H902.2 L911.1 540 L920.2 549 H962 a3 3 0 0 1 3 3 V624 a3 3 0 0 1 -3 3 H791.5 a3 3 0 0 1 -3 -3 V552 a3 3 0 0 1 3 -3 Z" fill="#000" fill-opacity="0.10" transform="translate(2.5,2.5)"/>
<path d="M791.5 549 H902.2 L911.1 540 L920.2 549 H962 a3 3 0 0 1 3 3 V624 a3 3 0 0 1 -3 3 H791.5 a3 3 0 0 1 -3 -3 V552 a3 3 0 0 1 3 -3 Z" fill="#000" fill-opacity="0.10" transform="translate(1.5,1.5)"/>
<path d="M791.5 549 H902.2 L911.1 540 L920.2 549 H962 a3 3 0 0 1 3 3 V624 a3 3 0 0 1 -3 3 H791.5 a3 3 0 0 1 -3 -3 V552 a3 3 0 0 1 3 -3 Z" fill="#f2f2f2" stroke="#e2e2e2" stroke-width="1"/>
<text x="804.3" y="576.6" font-size="17.4" fill="#555">14/02/2024</text>
<text x="803.8" y="608.4" font-size="17.6" font-weight="bold" fill="#333">Actual</text>
<text x="897.5" y="608.4" font-size="17.1" font-weight="bold" fill="#111">-2.3%</text>
</g>
</svg>
</body></html>
